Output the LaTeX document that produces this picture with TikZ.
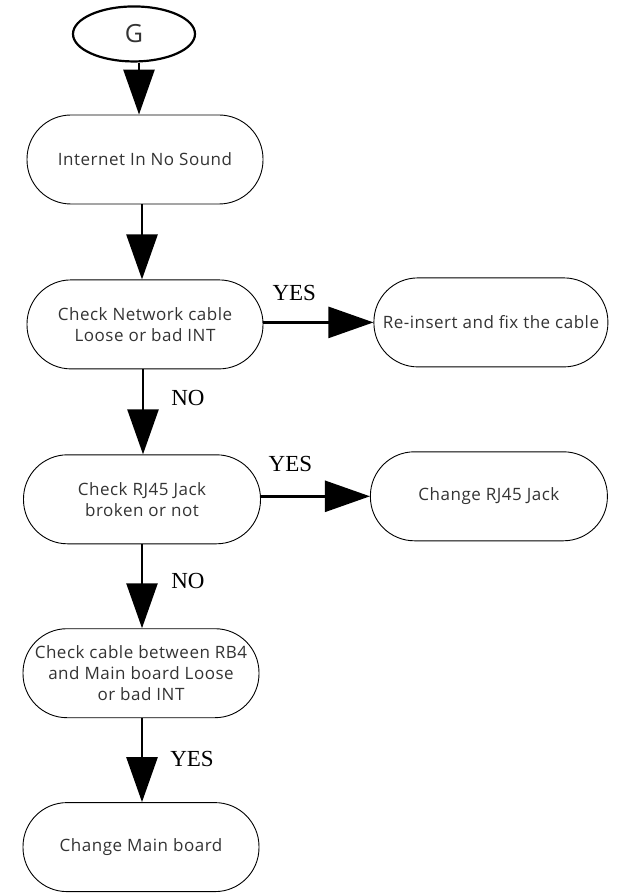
\documentclass[tikz,border=0pt]{standalone}
\usepackage{fontspec}
\setmainfont{Liberation Serif}
\newfontfamily\boxfont[LetterSpace=3]{Open Sans}
\usetikzlibrary{arrows.meta,positioning,shapes.geometric}
\definecolor{chartInk}{HTML}{000000}
\definecolor{chartText}{HTML}{333333}
\tikzset{
  chart/box/.style={draw=chartInk, line width=0.9pt, rounded corners=44pt,
    minimum width=236pt, minimum height=89pt, align=center, text=chartText,
    font=\boxfont\fontsize{17}{21}\selectfont, inner sep=2pt},
  chart/start/.style={draw=chartInk, ellipse, line width=2.2pt,
    minimum width=122pt, minimum height=55pt, inner sep=0pt,
    text=chartText, font=\boxfont\fontsize{25}{25}\selectfont},
  chart/flow/.style={-{Triangle[length=45pt,width=31pt]}, draw=chartInk,
    line width=2.6pt},
  chart/answer/.style={font=\fontsize{23}{23}\selectfont, text=chartInk},
}

\begin{document}
\begin{tikzpicture}
\useasboundingbox (0,0) rectangle (635pt,-893pt);
\node[chart/box] (sound) at (145pt,-159.5pt) {Internet In No Sound};
\node[chart/start, above=52pt of sound, xshift=-11pt] (G) {G};
\node[chart/box, below=75pt of sound] (cable) {Check Network cable\\Loose or bad INT};
\node[chart/box, right=110pt of cable, yshift=2pt, minimum width=234pt] (refix) {Re-insert and fix the cable};
\node[chart/box, below=85pt of cable, xshift=-3pt, minimum width=237pt] (jack) {Check RJ45 Jack\\broken or not};
\node[chart/box, right=109pt of jack, yshift=3pt, minimum width=237pt] (newjack) {Change RJ45 Jack};
\node[chart/box, below=84pt of jack, xshift=-1pt] (rbcable) {Check cable between RB4\\and Main board Loose\\or bad INT};
\node[chart/box, below=84pt of rbcable] (board) {Change Main board};
% connectors
\draw[chart/flow] ([xshift=5pt]G.south) -- ([xshift=-6pt]sound.north);
\draw[chart/flow] ([xshift=-3pt]sound.south) -- ([xshift=-3pt]sound.south |- cable.north);
\draw[chart/flow] (cable.east |- refix) -- node[chart/answer, pos=0.28, yshift=29pt] {YES} (refix.west);
\draw[chart/flow] ([xshift=-2pt]cable.south) -- node[chart/answer, pos=0.34, xshift=45pt] {NO} ([xshift=-2pt]cable.south |- jack.north);
\draw[chart/flow] (jack.east |- newjack) -- node[chart/answer, pos=0.27, yshift=32pt] {YES} (newjack.west);
\draw[chart/flow] (jack.south) -- node[chart/answer, pos=0.44, xshift=46pt] {NO} (jack.south |- rbcable.north);
\draw[chart/flow] ([xshift=1pt]rbcable.south) -- node[chart/answer, pos=0.49, xshift=50pt] {YES} ([xshift=1pt]board.north);
\end{tikzpicture}
\end{document}
